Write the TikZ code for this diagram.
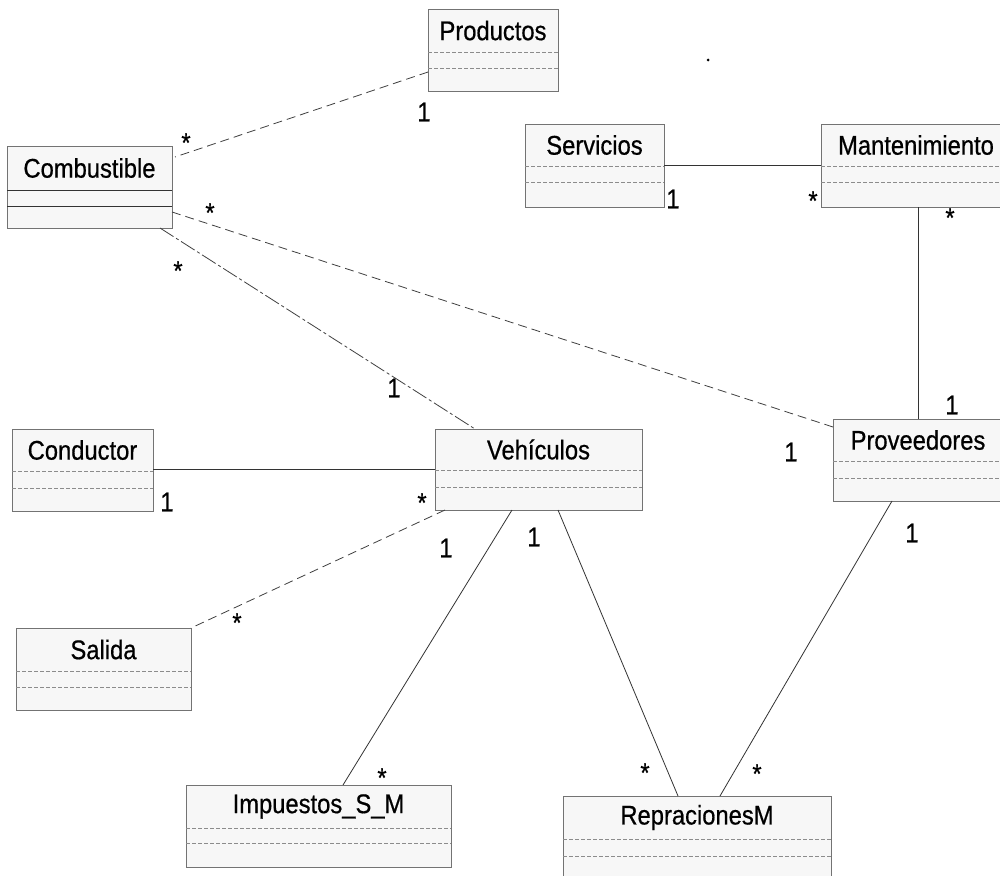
\documentclass[tikz,border=0pt]{standalone}
\usepackage{fontspec}
\setmainfont{Liberation Sans}[FakeStretch=0.88, FakeBold=0.6]
\usetikzlibrary{calc}

\tikzset{
  clsbox/.style={draw=black!55, line width=0.7pt, fill=black!3, inner sep=0pt, outer sep=0pt, rectangle},
  clstitle/.style={inner sep=0pt, outer sep=0pt, rectangle, font=\fontsize{27}{31}\selectfont},
  clsdiv/.style={draw=black!45, line width=0.6pt, dash pattern=on 4pt off 2pt},
  clssolid/.style={draw=black!80, line width=0.9pt},
  assoc/.style={draw=black!80, line width=0.8pt},
  assocdash/.style={draw=black!75, line width=0.8pt, dash pattern=on 9pt off 5pt},
  assocmix/.style={draw=black!75, line width=0.8pt, dash pattern=on 16pt off 3pt on 3pt off 3pt},
  mult/.style={inner sep=0pt, font=\fontsize{27}{31}\selectfont},
  multstar/.style={inner sep=0pt, anchor=base, yshift=-15pt, font=\fontsize{27}{31}\selectfont}
}

% #1 name, #2 x, #3 y, #4 width, #5 height, #6 title height, #7 gap to second divider, #8 title, #9 divider style
\newcommand{\classbox}[9]{%
  \node[clsbox, minimum width=#4pt, minimum height=#5pt, anchor=north west] (#1) at (#2,#3) {};
  \node[clstitle] (#1-t) at ($(#1.north)+(0,#6/2)$) {#8};
  \draw[#9] ($(#1.north west)+(0,#6)$) -- ($(#1.north east)+(0,#6)$);
  \draw[#9] ($(#1.north west)+(0,#6+#7)$) -- ($(#1.north east)+(0,#6+#7)$);
}

\begin{document}
\begin{tikzpicture}[x=1pt,y=-1pt]
\clip (0,0) rectangle (1000,875);
\fill[white] (0,0) rectangle (1000,875);

% classes
\classbox{prod}{428}{9}{130}{82}{43}{16}{Productos}{clsdiv}
\classbox{comb}{7}{146}{165}{82}{44}{16}{Combustible}{clssolid}
\classbox{serv}{525}{124}{139}{83}{42}{16}{Servicios}{clsdiv}
\classbox{mant}{821}{124}{190}{83}{42}{16}{Mantenimiento}{clsdiv}
\classbox{prov}{833}{419}{170}{82}{42}{17}{Proveedores}{clsdiv}
\classbox{cond}{12}{429}{141}{82}{42}{17}{Conductor}{clsdiv}
\classbox{veh}{435}{429}{207}{81}{41}{17}{Vehículos}{clsdiv}
\classbox{sal}{16}{628}{175}{82}{43}{16}{Salida}{clsdiv}
\classbox{imp}{186}{785}{265}{82}{43}{15}{Impuestos\_S\_M}{clsdiv}
\classbox{rep}{563}{796}{268}{84}{43}{17}{RepracionesM}{clsdiv}

% associations
\draw[assocdash] ($(prod.north west)+(0,63)$) -- ($(comb.north east)+(3,11)$);
\draw[assocdash] ($(comb.north east)+(0,66)$) -- ($(prov.north west)+(0,8)$);
\draw[assocmix] ($(comb.south east)+(-12,0)$) -- ($(veh.north west)+(40,0)$);
\draw[assoc] ($(serv.north east)+(0,41)$) -- ($(mant.north west)+(0,41)$);
\draw[assoc] ($(mant.south west)+(97,0)$) -- ($(prov.north west)+(85,0)$);
\draw[assoc] ($(cond.north east)+(0,40)$) -- ($(veh.north west)+(0,40)$);
\draw[assocdash] ($(veh.south west)+(10,0)$) -- (sal.north east);
\draw[assoc] ($(veh.south west)+(77,0)$) -- ($(imp.north west)+(157,0)$);
\draw[assoc] ($(veh.south west)+(123,0)$) -- ($(rep.north west)+(115,0)$);
\draw[assoc] ($(prov.south west)+(59,0)$) -- ($(rep.north west)+(157,0)$);

% multiplicities
\node[mult] (m-prod) at (424,112) {1};
\node[multstar] (m-comb1) at (186,137) {*};
\node[multstar] (m-comb2) at (210,207) {*};
\node[multstar] (m-comb3) at (178,265) {*};
\node[mult] (m-veh1) at (394,388) {1};
\node[mult] (m-serv) at (673,199) {1};
\node[multstar] (m-mant1) at (813,195) {*};
\node[multstar] (m-mant2) at (950,212) {*};
\node[mult] (m-prov1) at (952,405) {1};
\node[mult] (m-prov2) at (791,452) {1};
\node[mult] (m-cond) at (167,502) {1};
\node[multstar] (m-veh2) at (422,497) {*};
\node[mult] (m-veh3) at (446,548) {1};
\node[mult] (m-veh4) at (534,537) {1};
\node[multstar] (m-sal) at (237,617) {*};
\node[mult] (m-prov3) at (912,533) {1};
\node[multstar] (m-imp) at (382,772) {*};
\node[multstar] (m-rep1) at (645,767) {*};
\node[multstar] (m-rep2) at (757,768) {*};

% stray mark
\fill (708,60) circle (1.5);
\end{tikzpicture}
\end{document}
